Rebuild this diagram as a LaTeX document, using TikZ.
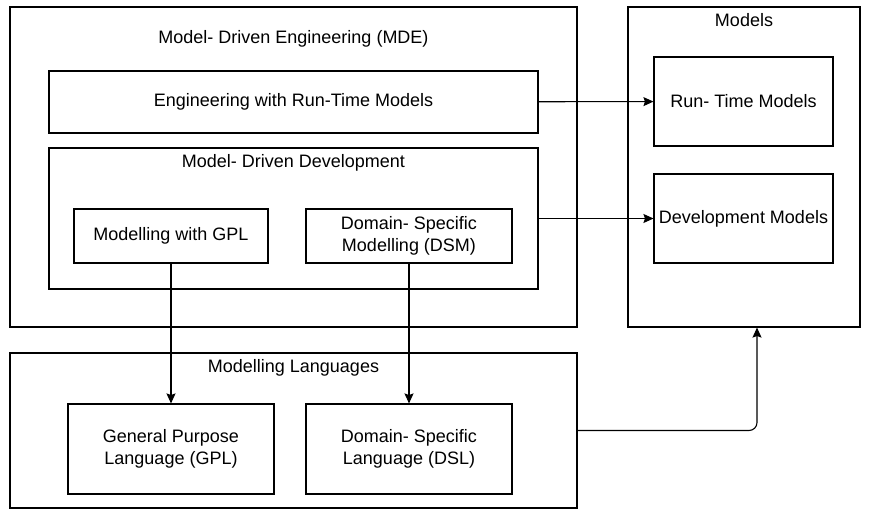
\documentclass[tikz,border=0pt]{standalone}
\usepackage{fontspec}
\setmainfont{Liberation Sans}
\usetikzlibrary{arrows.meta, positioning, calc}
\tikzset{
  boxnode/.style={draw, line width=1.1pt, inner sep=0pt, align=center, font=\fontsize{18}{22}\selectfont},
  areanode/.style={boxnode},
  titlenode/.style={inner sep=0pt, anchor=base, font=\fontsize{18}{22}\selectfont},
  flowarrow/.style={-{Stealth[length=10pt, width=9pt, inset=1.5pt]}, line width=1.1pt},
}

\begin{document}
\begin{tikzpicture}[x=1pt, y=-1pt]
  \useasboundingbox (0,0) rectangle (869,516);
  % outer areas
  \node[areanode, minimum width=567pt, minimum height=320pt] (mde) at (293.5,167) {};
  \node[areanode, minimum width=232pt, minimum height=320pt] (models) at (744,167) {};
  \node[areanode, minimum width=567pt, minimum height=155pt] (ml) at (293.5,430.5) {};
  \node[areanode, minimum width=489pt, minimum height=141pt] (mdd) at (293.5,218.5) {};
  \node[titlenode] (mdet) at (293.5,44) {Model- Driven Engineering (MDE)};
  \node[titlenode] (modelst) at (744,27) {Models};
  \node[titlenode] (mlt) at (293.5,372) {Modelling Languages};
  \node[titlenode] (mddt) at (293.5,167) {Model- Driven Development};
  % inner boxes
  \node[boxnode, minimum width=489pt, minimum height=62pt] (ertm) at (293.5,102) {Engineering with Run-Time Models};
  \node[boxnode, minimum width=194pt, minimum height=54pt] (mgpl) at (171,236) {Modelling with GPL};
  \node[boxnode, minimum width=206pt, minimum height=54pt] (dsm) at (409,236) {Domain- Specific\\Modelling (DSM)};
  \node[boxnode, minimum width=179pt, minimum height=89pt] (rtm) at (743.5,101.5) {Run- Time Models};
  \node[boxnode, minimum width=179pt, minimum height=89pt] (devm) at (743.5,218.5) {Development Models};
  \node[boxnode, minimum width=206pt, minimum height=90pt] (gpl) at (171,449) {General Purpose\\Language (GPL)};
  \node[boxnode, minimum width=206pt, minimum height=90pt] (dsl) at (409,449) {Domain- Specific\\Language (DSL)};
  % connectors
  \foreach \i/\j in {ertm/rtm,mdd/devm,mgpl/gpl,dsm/dsl} \draw[flowarrow] (\i)--(\j);
  \draw[flowarrow, rounded corners=8pt] (ml.east) -| ([xshift=13pt]models.south);
\end{tikzpicture}
\end{document}
